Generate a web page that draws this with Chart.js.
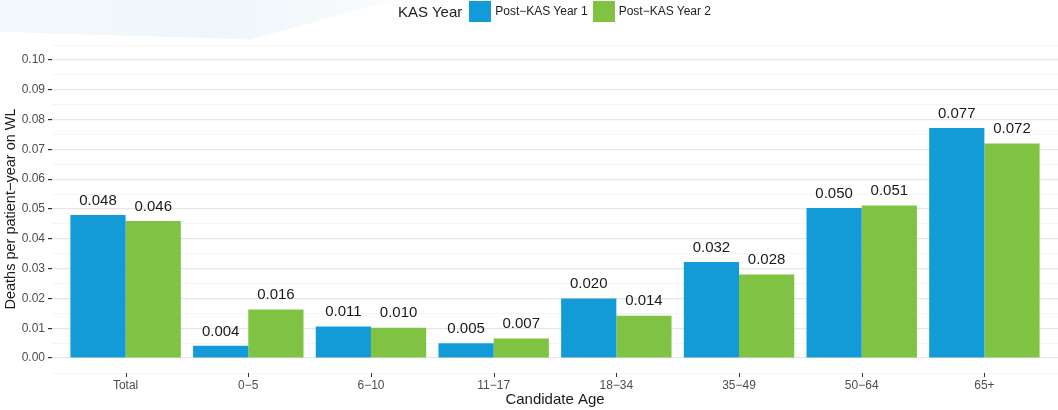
<!DOCTYPE html>
<html>
<head>
<meta charset="utf-8">
<script src="https://cdn.jsdelivr.net/npm/chart.js@4"></script>
<style>
  html, body { margin: 0; padding: 0; background: #fff; }
  #wrap { position: relative; width: 1058px; height: 410px; overflow: hidden; }
  #swoosh {
    position: absolute; left: -20px; top: -10px; width: 450px; height: 55px;
    background: linear-gradient(90deg, rgba(214,232,244,0.3) 0%, rgba(220,236,246,0.45) 55%, rgba(235,244,250,0.15) 100%);
    clip-path: polygon(0 0, 100% 0, 60% 90%, 0 75%);
  }
  #leyenda {
    position: absolute; left: 398px; top: 0; display: flex; align-items: center; height: 22px;
    font-family: "Liberation Sans", Arial, sans-serif; color: #222;
  }
  #leyenda .titulo { font-size: 15px; margin-right: 7px; }
  #leyenda .caja { width: 22px; height: 21px; margin-right: 4px; }
  #leyenda .texto { font-size: 12px; margin-right: 5px; }
  canvas { position: absolute; left: 0; top: 0; }
</style>
</head>
<body>
<div id="wrap">
  <div id="swoosh"></div>
  <canvas id="grafico" width="1058" height="410"></canvas>
  <div id="leyenda">
    <span class="titulo">KAS Year</span>
    <span class="caja" style="background:#139bd7"></span><span class="texto">Post−KAS Year 1</span>
    <span class="caja" style="background:#80c242"></span><span class="texto">Post−KAS Year 2</span>
  </div>
</div>
<script>
const categorias = ['Total', '0−5', '6−10', '11−17', '18−34', '35−49', '50−64', '65+'];
const anio1 = [0.048, 0.0041, 0.0106, 0.0050, 0.0200, 0.0322, 0.0503, 0.0772];
const anio2 = [0.046, 0.0163, 0.0102, 0.0066, 0.0142, 0.0280, 0.0512, 0.0720];
const nombresSeries = ['Post−KAS Year 1', 'Post−KAS Year 2'];
const coloresSeries = ['#139bd7', '#80c242'];

const fuente = '"Liberation Sans", Arial, sans-serif';

function aPuntos(valores) {
    return valores.map((v, i) => ({ x: i + 1, y: v }));
}

function esMayor(valor) {
    return Math.abs(Math.round(valor * 200)) % 2 === 0;
}

// etiquetas de valor encima de cada barra
const etiquetasBarras = {
    id: 'etiquetasBarras',
    afterDatasetsDraw(chart) {
        const ctx = chart.ctx;
        ctx.save();
        ctx.font = '15px ' + fuente;
        ctx.fillStyle = '#1a1a1a';
        ctx.textAlign = 'center';
        ctx.textBaseline = 'bottom';
        chart.data.datasets.forEach((ds, d) => {
            chart.getDatasetMeta(d).data.forEach((barra, i) => {
                ctx.fillText(ds.data[i].y.toFixed(3), barra.x, barra.y - 7);
            });
        });
        ctx.restore();
    }
};

// marcas cortas bajo el panel en cada categoría
const marcasX = {
    id: 'marcasX',
    afterDraw(chart) {
        const ctx = chart.ctx;
        const ejeX = chart.scales.x;
        ctx.save();
        ctx.strokeStyle = '#333333';
        ctx.lineWidth = 1;
        ejeX.ticks.forEach((t) => {
            if (!Number.isInteger(t.value)) return;
            const px = Math.round(ejeX.getPixelForValue(t.value)) + 0.5;
            ctx.beginPath();
            ctx.moveTo(px, ejeX.top);
            ctx.lineTo(px, ejeX.top + 4);
            ctx.stroke();
        });
        ctx.restore();
    }
};

new Chart(document.getElementById('grafico'), {
    type: 'bar',
    data: {
        datasets: [
            { label: nombresSeries[0], data: aPuntos(anio1), backgroundColor: coloresSeries[0] },
            { label: nombresSeries[1], data: aPuntos(anio2), backgroundColor: coloresSeries[1] }
        ]
    },
    options: {
        responsive: false,
        animation: false,
        categoryPercentage: 0.9,
        barPercentage: 1.0,
        layout: { padding: { top: 45, right: 0, left: 0, bottom: 0 } },
        plugins: {
            legend: { display: false },
            tooltip: { enabled: false }
        },
        scales: {
            x: {
                type: 'linear',
                min: 0.4,
                max: 8.6,
                offset: false,
                afterFit: (eje) => { eje.height = 37; },
                border: { display: false },
                grid: {
                    offset: false,
                    drawOnChartArea: false,
                    drawTicks: true,
                    tickLength: 4,
                    tickColor: 'rgba(0,0,0,0)'
                },
                ticks: {
                    stepSize: 1,
                    includeBounds: false,
                    autoSkip: false,
                    maxRotation: 0,
                    padding: 1,
                    color: '#4d4d4d',
                    font: { family: fuente, size: 12 },
                    callback: (v) => Number.isInteger(v) ? categorias[v - 1] : ''
                },
                title: {
                    display: true,
                    text: 'Candidate Age',
                    color: '#1a1a1a',
                    font: { family: fuente, size: 15 },
                    padding: { top: 0, bottom: 1 }
                }
            },
            y: {
                min: -0.005,
                max: 0.105,
                afterFit: (eje) => { eje.width = 52; },
                border: { display: false },
                grid: {
                    color: (c) => esMayor(c.tick.value) ? '#e6e6e6' : '#f3f3f3',
                    lineWidth: (c) => esMayor(c.tick.value) ? 1.2 : 0.8,
                    tickColor: (c) => (esMayor(c.tick.value) && c.tick.value > -0.001 && c.tick.value < 0.101) ? '#333333' : 'rgba(0,0,0,0)',
                    tickLength: 4
                },
                ticks: {
                    stepSize: 0.005,
                    autoSkip: false,
                    includeBounds: true,
                    padding: 3,
                    color: '#4d4d4d',
                    font: { family: fuente, size: 12 },
                    callback: (v) => (v < -0.001 || v > 0.101 || !esMayor(v)) ? '' : v.toFixed(2)
                },
                title: {
                    display: true,
                    text: 'Deaths per patient−year on WL',
                    color: '#1a1a1a',
                    font: { family: fuente, size: 14.5 },
                    padding: { top: 2, bottom: 2 }
                }
            }
        }
    },
    plugins: [etiquetasBarras, marcasX]
});
</script>
</body>
</html>
